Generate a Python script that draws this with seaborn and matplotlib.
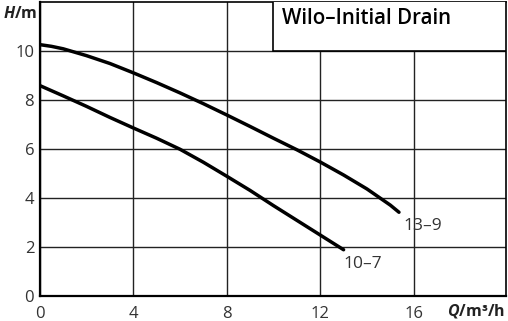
import numpy as np
import pandas as pd
import matplotlib
matplotlib.use("Agg")
import matplotlib.pyplot as plt
import seaborn as sns
from matplotlib.patches import Rectangle

# ---- data ----
q_13_9 = [0, 0.5, 1, 2, 3, 4, 5, 6, 7, 8, 9, 10, 11, 12, 13, 14, 15, 15.37]
h_13_9 = [10.27, 10.2, 10.1, 9.82, 9.5, 9.12, 8.72, 8.3, 7.86, 7.4, 6.93, 6.45, 5.98, 5.48, 4.95, 4.38, 3.72, 3.43]
q_10_7 = [0, 1, 2, 3, 4, 5, 6, 7, 8, 9, 10, 11, 12, 13]
h_10_7 = [8.6, 8.18, 7.75, 7.3, 6.87, 6.45, 6.0, 5.47, 4.9, 4.32, 3.7, 3.1, 2.5, 1.9]
series_names = ["13\u20139", "10\u20137"]
x_ticks = [0, 4, 8, 12, 16]
y_ticks = [0, 2, 4, 6, 8, 10]
title = "Wilo\u2013Initial Drain"

sns.set_style("white")
plt.rcParams['font.family'] = ['Open Sans', 'DejaVu Sans']
plt.rcParams['mathtext.fontset'] = 'custom'
plt.rcParams['mathtext.rm'] = 'Open Sans'
plt.rcParams['mathtext.it'] = 'Open Sans:italic:bold'

df = pd.concat([
    pd.DataFrame({"Q": q_13_9, "H": h_13_9, "pump": series_names[0]}),
    pd.DataFrame({"Q": q_10_7, "H": h_10_7, "pump": series_names[1]}),
])

W, H = 508, 321
fig = plt.figure(figsize=(W / 100, H / 100), dpi=100)
ax = fig.add_axes([39.8 / W, (H - 296.3) / H, (506 - 39.8) / W, (296.3 - 1.5) / H])

sns.lineplot(data=df, x="Q", y="H", hue="pump", palette={n: "black" for n in series_names},
             linewidth=2.5, legend=False, sort=False, ax=ax, zorder=4)

ax.set_xlim(0, 19.95)
ax.set_ylim(0, 12.03)
ax.set_xticks(x_ticks)
ax.set_yticks(y_ticks)
ax.set_xticklabels([str(v) for v in x_ticks])
ax.set_yticklabels([str(v) for v in y_ticks])
ax.tick_params(axis="both", length=0, labelsize=12, labelcolor="#333333")
ax.tick_params(axis="x", pad=7)
ax.tick_params(axis="y", pad=4)
ax.set_xlabel("")
ax.set_ylabel("")
ax.grid(True, color="#222222", linewidth=1.0)
ax.set_axisbelow(True)

for side, lw in (("left", 1.6), ("bottom", 1.6), ("top", 1.2), ("right", 1.2)):
    ax.spines[side].set_visible(True)
    ax.spines[side].set_color("black")
    ax.spines[side].set_linewidth(lw)

# title box (white, covering grid)
ax.add_patch(Rectangle((10, 10), 9.95, 2.03, facecolor="white", edgecolor="black",
                       linewidth=1.2, zorder=3))
fig.text(282 / W, 1 - 19 / H, title, ha="left", va="center", fontsize=14.8,
         fontweight="semibold", color="black")

# curve labels
ax.text(15.58, 2.88, series_names[0], ha="left", va="center", fontsize=12.5, color="#333333")
ax.text(13.01, 1.32, series_names[1], ha="left", va="center", fontsize=12.5, color="#333333")

# axis labels
fig.text(3 / W, 1 - 14 / H, r"$H$/m", ha="left", va="center", fontsize=11.5,
         fontweight="bold", color="#222222")
fig.text(505 / W, 1 - 310.7 / H, r"$Q$/m³/h", ha="right", va="center", fontsize=11.5,
         fontweight="bold", color="#222222")

fig.savefig("out.png", dpi=100)
